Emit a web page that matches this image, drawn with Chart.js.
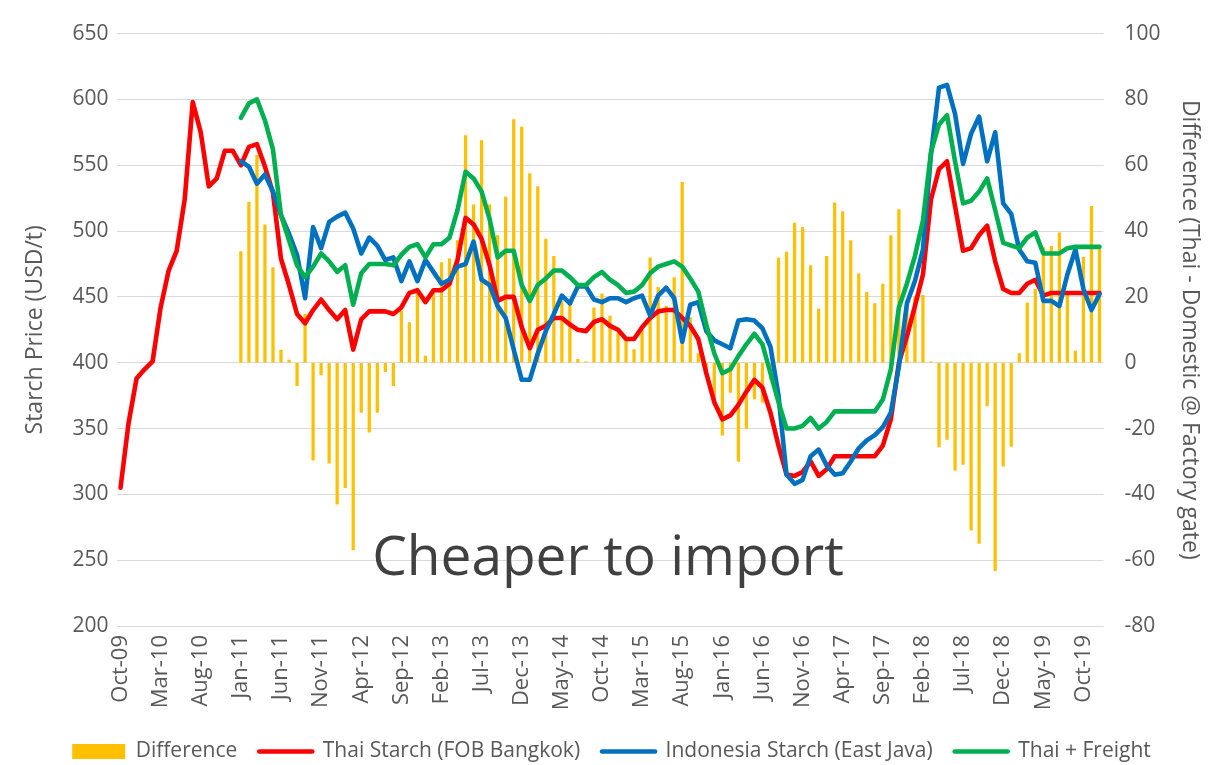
<!DOCTYPE html>
<html>
<head>
<meta charset="utf-8">
<script src="https://cdn.jsdelivr.net/npm/chart.js@4.4.1/dist/chart.umd.min.js"></script>
<style>
  html, body { margin: 0; padding: 0; background: #fff; }
  #wrap { width: 1223px; height: 765px; position: relative; }
</style>
</head>
<body>
<div id="wrap"><canvas id="myChart"></canvas></div>
<script>
// month categories, Oct-09 .. Dec-19
let monthNames = ['Jan', 'Feb', 'Mar', 'Apr', 'May', 'Jun', 'Jul', 'Aug', 'Sep', 'Oct', 'Nov', 'Dec'];
let labels = [];
for (let k = 0; k < 123; k++) {
    let m = (9 + k) % 12;
    let y = 9 + Math.floor((9 + k) / 12);
    labels.push(monthNames[m] + '-' + String(y).padStart(2, '0'));
}

// Thai Starch (FOB Bangkok), USD/t
let thaiFob = [305, 354, 388, 395, 401, 442, 470, 485, 524, 598,
    575, 534, 540, 561, 561, 550, 564, 566, 549, 529,
    479, 459, 437, 430, 440, 448, 440, 433, 440, 410,
    433, 439, 439, 439, 437, 442, 453, 455, 446, 455,
    455, 460, 478, 510, 505, 494, 474, 447, 450, 450,
    427, 411, 425, 428, 434, 434, 429, 425, 424, 431,
    433, 428, 425, 418, 418, 427, 434, 439, 440, 440,
    434, 428, 418, 392, 370, 357, 360, 368, 378, 387,
    381, 362, 337, 315, 314, 317, 325, 314, 319, 329,
    329, 329, 329, 329, 329, 337, 357, 400, 420, 443,
    467, 524, 547, 553, 519, 485, 487, 497, 504, 477,
    456, 453, 453, 460, 463, 451, 453, 453, 453, 453,
    453, 453, 453];

// Indonesia Starch (East Java), USD/t
let indoJava = [null, null, null, null, null, null, null, null, null, null,
    null, null, null, null, null, 553, 549, 536, 543, 530,
    512, 498, 482, 449, 503, 487, 507, 511, 514, 502,
    483, 495, 489, 478, 480, 462, 477, 462, 478, 469,
    460, 463, 473, 475, 492, 463, 459, 443, 434, 410,
    387, 387, 407, 424, 437, 451, 445, 458, 458, 448,
    446, 449, 449, 446, 449, 451, 436, 451, 457, 449,
    416, 444, 446, 424, 417, 414, 411, 432, 433, 432,
    426, 412, 375, 315, 308, 311, 329, 334, 322, 315,
    316, 325, 335, 341, 345, 351, 362, 397, 445, 462,
    486, 558, 609, 611, 589, 551, 574, 587, 553, 575,
    521, 513, 486, 477, 476, 447, 447, 443, 467, 486,
    456, 440, 452];

// Thai + Freight, USD/t
let thaiFreight = [null, null, null, null, null, null, null, null, null, null,
    null, null, null, null, null, 586, 597, 600, 584, 562,
    512, 493, 474, 465, 473, 483, 477, 469, 474, 444,
    468, 475, 475, 475, 474, 482, 488, 490, 480, 490,
    490, 495, 516, 545, 540, 530, 509, 480, 485, 485,
    459, 447, 459, 464, 470, 470, 465, 459, 459, 465,
    469, 463, 459, 453, 454, 459, 468, 473, 475, 477,
    473, 464, 454, 429, 407, 392, 395, 405, 414, 422,
    414, 392, 370, 350, 350, 352, 358, 350, 355, 363,
    363, 363, 363, 363, 363, 372, 395, 442, 460, 481,
    508, 560, 581, 588, 553, 521, 523, 530, 540, 516,
    491, 489, 487, 495, 499, 483, 483, 483, 487, 488,
    488, 488, 488];

// Difference (Thai - Domestic @ Factory gate)
let difference = [null, null, null, null, null, null, null, null, null, null,
    null, null, null, null, null, 33.8, 48.8, 63, 41.9, 28.9,
    3.8, 0.8, -7, 14.7, -29.6, -3.7, -30.5, -43, -38, -56.9,
    -15.1, -21.1, -15.1, -2.7, -7, 15.7, 12.2, 22.7, 2, 21.2,
    30.4, 31.6, 37.1, 69, 48, 67.5, 48, 38.6, 50.3, 73.9,
    71.6, 57.5, 53.5, 37.6, 32.3, 18.7, 18, 1, 0.3, 16.7,
    20.9, 14.2, 9, 7, 4, 10, 31.9, 22.9, 17.2, 25.9,
    54.8, 13.7, 2.8, -3, -13, -22, -9, -30, -20, -11,
    -12, -5, 31.8, 33.6, 42.4, 41.1, 29.5, 16.4, 32.3, 48.6,
    45.9, 37.1, 27, 21.4, 18, 23.9, 38.6, 46.5, 19, 20,
    20.5, 0.3, -25.6, -23.3, -32.7, -30.9, -50.9, -54.9, -13.1, -63.2,
    -31.4, -25.4, 2.8, 18.2, 22.3, 35, 35.4, 39.5, 21.5, 3.5,
    32, 47.5, 34.5];

let noteText = 'Cheaper to import';
let axisGrey = '#595959';

Chart.defaults.font.family = "'Open Sans', sans-serif";
Chart.defaults.font.size = 21;
Chart.defaults.color = axisGrey;

// big text in the lower middle of the plot
let notePlugin = {
    id: 'note',
    afterDatasetsDraw(chart) {
        let ctx = chart.ctx;
        let area = chart.chartArea;
        ctx.save();
        ctx.font = "55px 'Open Sans', sans-serif";
        ctx.fillStyle = '#404040';
        ctx.textAlign = 'center';
        ctx.textBaseline = 'alphabetic';
        ctx.fillText(noteText, (area.left + area.right) / 2 - 2, chart.scales.y.getPixelForValue(239));
        ctx.restore();
    }
};

let ctx = document.getElementById('myChart').getContext('2d');

let chart = new Chart(ctx, {
    type: 'line',
    data: {
        labels: labels,
        datasets: [
            {
                type: 'bar',
                label: 'Difference',
                data: difference,
                backgroundColor: '#FFC000',
                borderWidth: 0,
                barThickness: 2.6,
                yAxisID: 'y1',
                pointStyle: 'rect',
                order: 4
            },
            {
                label: 'Thai Starch (FOB Bangkok)',
                data: thaiFob,
                borderColor: '#FF0000',
                backgroundColor: '#FF0000',
                borderWidth: 4.6,
                pointRadius: 0,
                pointStyle: 'line',
                tension: 0,
                borderJoinStyle: 'round',
                borderCapStyle: 'round',
                yAxisID: 'y',
                order: 3
            },
            {
                label: 'Indonesia Starch (East Java)',
                data: indoJava,
                borderColor: '#0070C0',
                backgroundColor: '#0070C0',
                borderWidth: 4.6,
                pointRadius: 0,
                pointStyle: 'line',
                tension: 0,
                borderJoinStyle: 'round',
                borderCapStyle: 'round',
                yAxisID: 'y',
                order: 2
            },
            {
                label: 'Thai + Freight',
                data: thaiFreight,
                borderColor: '#00B050',
                backgroundColor: '#00B050',
                borderWidth: 4.6,
                pointRadius: 0,
                pointStyle: 'line',
                tension: 0,
                borderJoinStyle: 'round',
                borderCapStyle: 'round',
                yAxisID: 'y',
                order: 1
            }
        ]
    },
    options: {
        responsive: true,
        maintainAspectRatio: false,
        animation: false,
        devicePixelRatio: 1,
        layout: {
            padding: { top: 21, bottom: -7, left: 0, right: 0 }
        },
        plugins: {
            legend: {
                position: 'bottom',
                labels: {
                    usePointStyle: true,
                    pointStyleWidth: 53,
                    boxHeight: 15,
                    padding: 22,
                    color: axisGrey,
                    font: { size: 21 },
                    generateLabels(chart) {
                        let items = Chart.defaults.plugins.legend.labels.generateLabels(chart);
                        items.forEach(function (it) { it.lineCap = 'round'; });
                        return items.sort(function (a, b) { return a.datasetIndex - b.datasetIndex; });
                    }
                }
            },
            tooltip: { enabled: false }
        },
        scales: {
            x: {
                type: 'category',
                offset: true,
                grid: { display: false, drawTicks: false },
                border: { display: false },
                ticks: {
                    autoSkip: false,
                    maxRotation: 90,
                    minRotation: 90,
                    padding: 9,
                    color: axisGrey,
                    font: { size: 22 },
                    callback: function (value, index) {
                        return index % 5 === 0 ? labels[index] : null;
                    }
                },
                afterFit: function (scale) { scale.height = 93; }
            },
            y: {
                position: 'left',
                min: 200,
                max: 650,
                ticks: { stepSize: 50, padding: 8, color: axisGrey },
                grid: { color: '#D9D9D9', lineWidth: 1, drawTicks: false },
                border: { display: false },
                title: {
                    display: true,
                    text: 'Starch Price (USD/t)',
                    color: axisGrey,
                    font: { size: 23 },
                    padding: { top: 22, bottom: 0 }
                },
                afterFit: function (scale) { scale.width = 116.5; }
            },
            y1: {
                position: 'right',
                min: -80,
                max: 100,
                ticks: { stepSize: 20, padding: 21, color: axisGrey },
                grid: { drawOnChartArea: false, drawTicks: false },
                border: { display: false },
                title: {
                    display: true,
                    text: 'Difference (Thai - Domestic @ Factory gate)',
                    color: axisGrey,
                    font: { size: 23 },
                    padding: { top: 20, bottom: 0 }
                },
                afterFit: function (scale) { scale.width = 119.5; }
            }
        }
    },
    plugins: [notePlugin]
});
</script>
</body>
</html>
